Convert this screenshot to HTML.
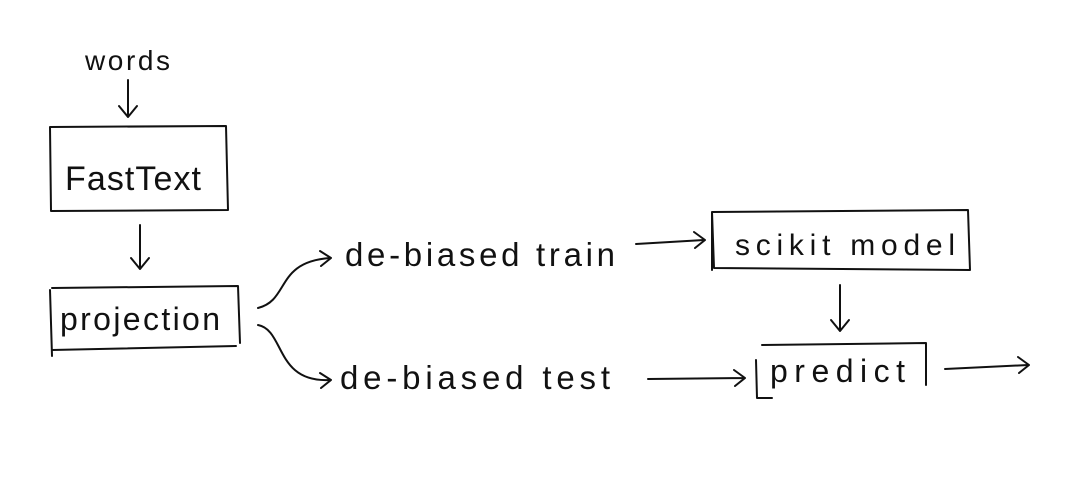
<!DOCTYPE html>
<html><head><meta charset="utf-8"><style>
html,body{margin:0;padding:0;background:#fff;}
svg{display:block}
text{font-family:"Liberation Sans",sans-serif;fill:#111;}
</style></head><body>
<svg width="1071" height="479" viewBox="0 0 1071 479" xmlns="http://www.w3.org/2000/svg">
<g fill="none" stroke="#111" stroke-width="2" stroke-linecap="round" stroke-linejoin="round">
<path d="M128 80 L128 116 M119 106 L128 117 L137 106"/>
<path d="M50 127 L226 126 L228 210 L51 211 Z"/>
<path d="M140 225 L140 268 M131 258 L140 269 L149 258"/>
<path d="M52 288 L238 286 L240 343 M50 290 L52 356 M52 350 L236 346"/>
<path d="M258 308 C290 300 275 262 330 258 M320 251 L331 258 L321 266"/>
<path d="M258 325 C285 330 275 383 330 380 M320 373 L331 380 L321 388"/>
<path d="M636 244 L704 240 M694 232 L705 240 L695 248"/>
<path d="M712 212 L968 210 L970 270 L714 268 Z M712 212 L712 270"/>
<path d="M840 285 L840 330 M831 320 L840 331 L849 320"/>
<path d="M648 379 L744 378 M734 370 L745 378 L735 386"/>
<path d="M762 345 L926 343 L926 385 M756 360 L757 398 M757 398 L772 398"/>
<path d="M945 369 L1028 365 M1018 357 L1029 365 L1019 373"/>
</g>
<text x="85" y="70" font-size="28" textLength="85" lengthAdjust="spacing">words</text>
<text x="65" y="190" font-size="34" textLength="136" lengthAdjust="spacing">FastText</text>
<text x="60" y="330" font-size="32" textLength="160" lengthAdjust="spacing">projection</text>
<text x="345" y="266" font-size="33" textLength="270" lengthAdjust="spacing">de-biased train</text>
<text x="735" y="255" font-size="30" textLength="220" lengthAdjust="spacing">scikit model</text>
<text x="340" y="389" font-size="33" textLength="270" lengthAdjust="spacing">de-biased test</text>
<text x="770" y="382" font-size="32" textLength="135" lengthAdjust="spacing">predict</text>
</svg>
</body></html>
